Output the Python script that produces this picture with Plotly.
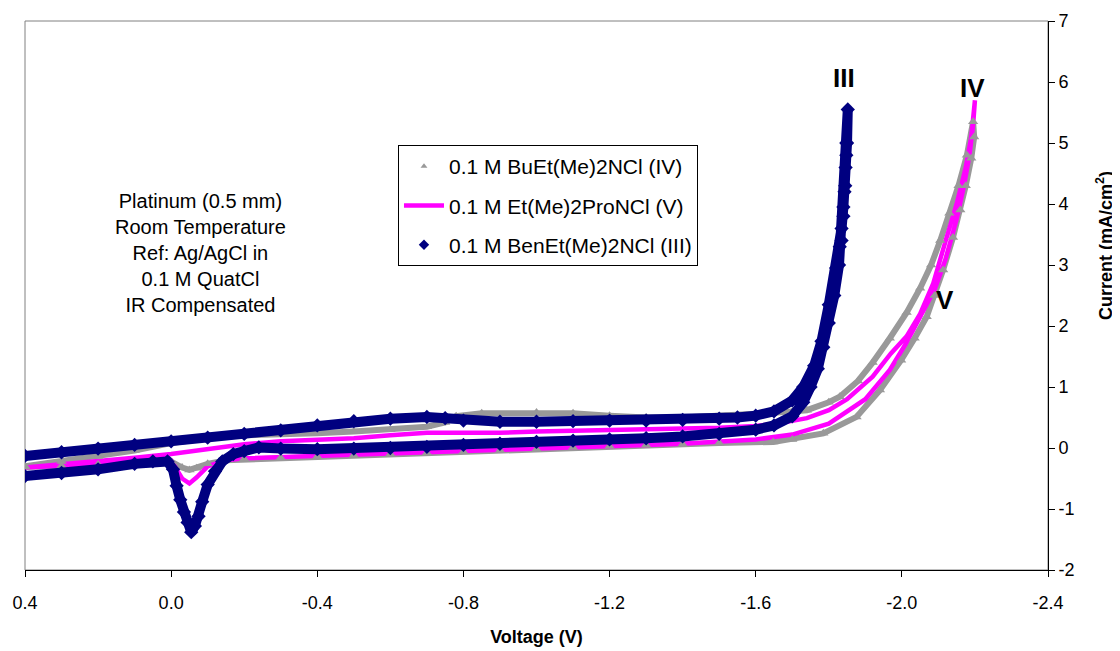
import plotly.graph_objects as go

# ---------------- data ----------------
# Series III : 0.1 M BenEt(Me)2NCl  (navy diamonds) - forward scan then return scan
volt_III = [0.40, 0.30, 0.20, 0.10, 0.00, -0.10, -0.20, -0.30, -0.40, -0.50, -0.60, -0.70,
            -0.75, -0.80, -0.90, -1.00, -1.10, -1.20, -1.30, -1.40, -1.50, -1.55, -1.60,
            -1.65, -1.70, -1.73, -1.76, -1.78, -1.80, -1.82, -1.83, -1.835, -1.84, -1.845,
            -1.848, -1.850, -1.852,
            -1.848, -1.846, -1.843, -1.840, -1.835, -1.828, -1.815, -1.800, -1.785, -1.770,
            -1.750, -1.730, -1.700, -1.650, -1.600, -1.500, -1.400, -1.300, -1.200, -1.100,
            -1.000, -0.900, -0.800, -0.700, -0.600, -0.500, -0.400, -0.300, -0.240, -0.200,
            -0.170, -0.140, -0.120, -0.100, -0.085, -0.075, -0.065, -0.055, -0.045, -0.035,
            -0.025, -0.015, -0.005, 0.010, 0.050, 0.100, 0.200, 0.300, 0.400]
curr_III = [-0.13, -0.07, -0.01, 0.05, 0.11, 0.17, 0.23, 0.29, 0.37, 0.44, 0.48, 0.51,
            0.49, 0.45, 0.43, 0.43, 0.44, 0.45, 0.45, 0.46, 0.48, 0.50, 0.53,
            0.60, 0.78, 1.00, 1.35, 1.75, 2.35, 2.95, 3.30, 3.60, 3.95, 4.30,
            4.80, 5.00, 5.55,
            5.00, 4.60, 4.20, 3.80, 3.40, 3.00, 2.50, 2.05, 1.65, 1.30,
            1.00, 0.75, 0.52, 0.37, 0.30, 0.23, 0.19, 0.16, 0.14, 0.12,
            0.10, 0.07, 0.05, 0.02, 0.00, -0.01, -0.02, -0.01, 0.01, -0.05,
            -0.10, -0.22, -0.38, -0.60, -0.88, -1.12, -1.28, -1.38, -1.22, -1.05,
            -0.85, -0.62, -0.35, -0.22, -0.22, -0.26, -0.35, -0.41, -0.46]

# Series IV : 0.1 M BuEt(Me)2NCl (grey triangles)
volt_IV = [0.40, 0.30, 0.20, 0.10, 0.00, -0.10, -0.20, -0.30, -0.40, -0.50, -0.60, -0.70,
           -0.75, -0.78, -0.85, -1.00, -1.10, -1.20, -1.30, -1.40, -1.50, -1.60, -1.70,
           -1.74, -1.80, -1.83, -1.88, -1.92, -1.967, -2.013, -2.050, -2.080, -2.105,
           -2.130, -2.155, -2.178, -2.195,
           -2.198, -2.190, -2.175, -2.160, -2.140, -2.113, -2.090, -2.068, -2.035, -1.998,
           -1.940, -1.876, -1.785, -1.700, -1.648, -1.500, -1.400, -1.300, -1.200, -1.100,
           -1.000, -0.900, -0.800, -0.700, -0.600, -0.500, -0.400, -0.300, -0.200, -0.150,
           -0.100, -0.070, -0.050, -0.030, 0.000, 0.100, 0.200, 0.300, 0.400]
curr_IV = [-0.30, -0.22, -0.14, -0.04, 0.08, 0.16, 0.21, 0.22, 0.24, 0.27, 0.30, 0.35,
           0.42, 0.52, 0.57, 0.58, 0.57, 0.53, 0.50, 0.50, 0.52, 0.56, 0.60,
           0.62, 0.75, 0.84, 1.10, 1.40, 1.80, 2.22, 2.62, 3.00, 3.40,
           3.85, 4.30, 4.80, 5.35,
           5.10, 4.75, 4.30, 3.90, 3.45, 2.92, 2.50, 2.15, 1.80, 1.44,
           0.95, 0.51, 0.24, 0.14, 0.10, 0.08, 0.06, 0.05, 0.03, 0.01,
           -0.02, -0.04, -0.06, -0.08, -0.10, -0.12, -0.14, -0.16, -0.18, -0.20,
           -0.26, -0.33, -0.36, -0.32, -0.22, -0.24, -0.27, -0.29, -0.31]

# Series V : 0.1 M Et(Me)2ProNCl (magenta line)
volt_V = [0.40, 0.30, 0.20, 0.10, 0.00, -0.10, -0.20, -0.30, -0.40, -0.50, -0.60, -0.70,
          -0.80, -0.90, -1.00, -1.10, -1.20, -1.30, -1.40, -1.50, -1.60, -1.66, -1.74,
          -1.80, -1.85, -1.92, -1.97, -2.013, -2.05, -2.086, -2.12, -2.15, -2.175, -2.19,
          -2.20,
          -2.195, -2.185, -2.170, -2.150, -2.120, -2.090, -2.049, -2.010, -1.967, -1.900,
          -1.800, -1.700, -1.600, -1.500, -1.400, -1.300, -1.200, -1.100, -1.000, -0.900,
          -0.800, -0.700, -0.600, -0.500, -0.400, -0.300, -0.200, -0.150, -0.100, -0.070,
          -0.050, -0.030, -0.010, 0.000, 0.100, 0.200, 0.300, 0.400]
curr_V = [-0.32, -0.27, -0.22, -0.16, -0.10, -0.02, 0.06, 0.11, 0.13, 0.16, 0.21, 0.25,
          0.25, 0.25, 0.27, 0.28, 0.29, 0.30, 0.31, 0.33, 0.36, 0.40, 0.49,
          0.62, 0.80, 1.17, 1.55, 1.83, 2.20, 2.70, 3.40, 4.00, 4.60, 5.10,
          5.70,
          5.30, 4.80, 4.30, 3.75, 3.10, 2.60, 2.15, 1.70, 1.28, 0.80,
          0.40, 0.22, 0.14, 0.10, 0.07, 0.05, 0.03, 0.01, -0.02, -0.03,
          -0.05, -0.07, -0.09, -0.11, -0.13, -0.15, -0.17, -0.20, -0.30, -0.48,
          -0.58, -0.50, -0.30, -0.20, -0.22, -0.26, -0.29, -0.32]

x_ticks = [0.4, 0.0, -0.4, -0.8, -1.2, -1.6, -2.0, -2.4]
x_tick_labels = ["0.4", "0.0", "-0.4", "-0.8", "-1.2", "-1.6", "-2.0", "-2.4"]
y_ticks = [-2, -1, 0, 1, 2, 3, 4, 5, 6, 7]
y_tick_labels = ["-2", "-1", "0", "1", "2", "3", "4", "5", "6", "7"]

NAME_IV = "0.1 M BuEt(Me)2NCl (IV)"
NAME_V = "0.1 M Et(Me)2ProNCl (V)"
NAME_III = "0.1 M BenEt(Me)2NCl (III)"

GREY = "#999999"
PINK = "#FF00FF"
NAVY = "#000080"
FONT = "Liberation Sans, Arial, sans-serif"

fig = go.Figure()

# grey band (IV)
fig.add_trace(go.Scatter(x=volt_IV, y=curr_IV, mode="lines",
                         line=dict(color=GREY, width=6), showlegend=False,
                         hoverinfo="skip"))
# magenta line (V)
fig.add_trace(go.Scatter(x=volt_V, y=curr_V, mode="lines", name=NAME_V,
                         line=dict(color=PINK, width=4.5), legendrank=2,
                         legendgroup="V"))
# grey triangles (IV)
fig.add_trace(go.Scatter(x=volt_IV, y=curr_IV, mode="markers", name=NAME_IV,
                         marker=dict(symbol="triangle-up", size=9, color=GREY),
                         showlegend=False, legendgroup="IV"))
# navy band (III)
fig.add_trace(go.Scatter(x=volt_III, y=curr_III, mode="lines",
                         line=dict(color=NAVY, width=10), showlegend=False,
                         hoverinfo="skip"))
# navy diamonds (III)
fig.add_trace(go.Scatter(x=volt_III, y=curr_III, mode="markers", name=NAME_III,
                         marker=dict(symbol="diamond", size=11, color=NAVY),
                         showlegend=False, legendgroup="III"))

# legend keys (small symbols as in the reference)
fig.add_trace(go.Scatter(x=[None], y=[None], mode="markers", name=NAME_IV,
                         marker=dict(symbol="triangle-up", size=6, color=GREY),
                         legendrank=1, legendgroup="IV"))
fig.add_trace(go.Scatter(x=[None], y=[None], mode="markers", name=NAME_III,
                         marker=dict(symbol="diamond", size=8, color=NAVY),
                         legendrank=3, legendgroup="III"))

annotations = [
    dict(x=-0.079, y=3.20, xref="x", yref="y", showarrow=False,
         text="Platinum (0.5 mm)<br>Room Temperature<br>Ref: Ag/AgCl in<br>0.1 M QuatCl<br>IR Compensated",
         font=dict(family=FONT, size=20, color="black"), align="center"),
    dict(x=-1.841, y=6.07, xref="x", yref="y", showarrow=False, text="<b>III</b>",
         font=dict(family=FONT, size=26, color="black")),
    dict(x=-2.194, y=5.90, xref="x", yref="y", showarrow=False, text="<b>IV</b>",
         font=dict(family=FONT, size=26, color="black")),
    dict(x=-2.118, y=2.43, xref="x", yref="y", showarrow=False, text="<b>V</b>",
         font=dict(family=FONT, size=26, color="black")),
    dict(x=1.0557, y=0.592, xref="paper", yref="paper", showarrow=False,
         xanchor="center", yanchor="middle",
         text="<b>Current (mA/cm<sup>2</sup>)</b>", textangle=-90,
         font=dict(family=FONT, size=18, color="black")),
]

# page body has an 8 px margin: figure sized/placed so that the plot area lands
# at the reference position in the 1120x651 window
fig.update_layout(
    width=1112, height=643,
    margin=dict(l=17, r=72, t=13, b=81, autoexpand=False),
    paper_bgcolor="white", plot_bgcolor="white",
    font=dict(family=FONT, size=18, color="black"),
    showlegend=True,
    legend=dict(x=0.3646, y=0.774, xanchor="left", yanchor="top",
                bgcolor="white", bordercolor="black", borderwidth=1,
                font=dict(family=FONT, size=21, color="black"),
                traceorder="grouped", tracegroupgap=9, itemwidth=40),
    annotations=annotations,
    shapes=[dict(type="rect", xref="paper", yref="paper", x0=0, y0=0, x1=1, y1=1,
                 line=dict(color="#808080", width=1), layer="below")],
)

fig.update_xaxes(range=[0.4, -2.4], tickvals=x_ticks, ticktext=x_tick_labels,
                 showgrid=False, zeroline=False, showline=True, linecolor="black",
                 linewidth=1, ticks="outside", ticklen=6, tickcolor="black",
                 tickfont=dict(family=FONT, size=18), ticklabelstandoff=10,
                 automargin=False,
                 title=dict(text="<b>Voltage (V)</b>", font=dict(family=FONT, size=18),
                            standoff=18))
fig.update_yaxes(range=[-2, 7], tickvals=y_ticks, ticktext=y_tick_labels, side="right",
                 showgrid=False, zeroline=False, showline=True, linecolor="black",
                 linewidth=1, ticks="outside", ticklen=6, tickcolor="black",
                 tickfont=dict(family=FONT, size=18), automargin=False)

fig.write_html("out.html")
